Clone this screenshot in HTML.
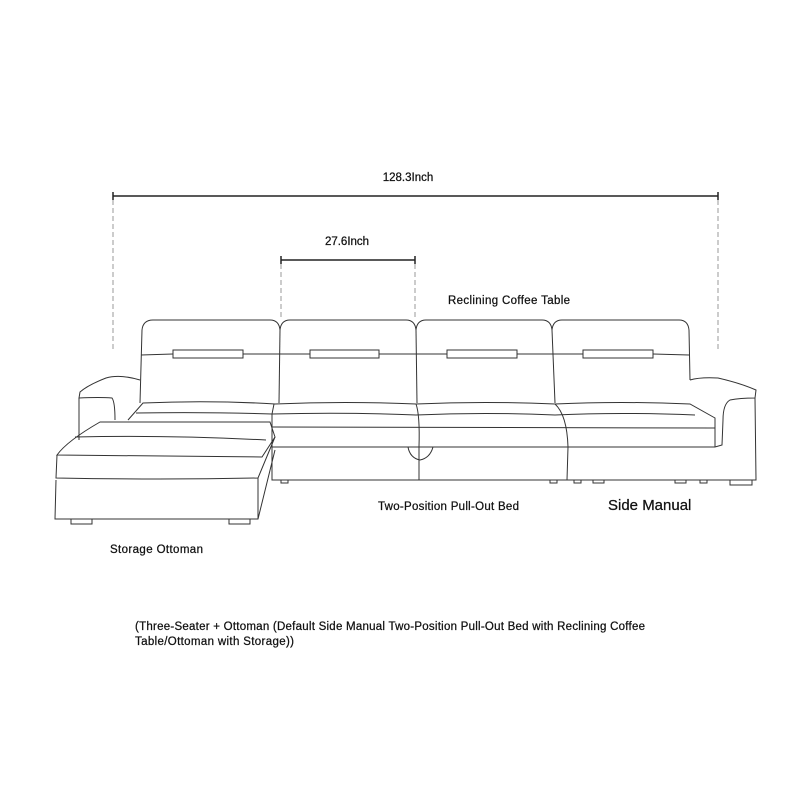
<!DOCTYPE html>
<html><head><meta charset="utf-8"><style>
html,body{margin:0;padding:0;background:#fff;width:800px;height:800px;overflow:hidden}
svg{display:block}
text{font-family:"Liberation Sans",sans-serif;fill:#111;stroke:#111;stroke-width:0.25}
</style></head><body>
<svg width="800" height="800" viewBox="0 0 800 800" xmlns="http://www.w3.org/2000/svg">
<g stroke="#222" stroke-width="1.5" fill="none">
<line x1="113" y1="196" x2="718" y2="196"/>
<line x1="113" y1="192" x2="113" y2="200"/><line x1="718" y1="192" x2="718" y2="200"/>
<line x1="281" y1="260" x2="415" y2="260"/>
<line x1="281" y1="256" x2="281" y2="264"/><line x1="415" y1="256" x2="415" y2="264"/>
</g>
<g stroke="#999" stroke-width="1" stroke-dasharray="5,3" fill="none">
<line x1="113" y1="200" x2="113" y2="350"/><line x1="718" y1="200" x2="718" y2="350"/>
<line x1="281" y1="264" x2="281" y2="320"/><line x1="415" y1="264" x2="415" y2="320"/>
</g>
<g stroke="#333" stroke-width="1" fill="none">
<path d="M140 403 L142 330 Q143 320 153 320 L270 320 Q279 320 280 330 Q281 320 290 320 L406 320 Q415 320 416 330 Q417 320 426 320 L542 320 Q551 320 552 330 Q553 320 562 320 L679 320 Q688 320 689 330 L690 380"/>
<line x1="280" y1="330" x2="279" y2="403"/>
<line x1="416" y1="330" x2="417" y2="403"/>
<line x1="552" y1="330" x2="555" y2="403"/>
<path d="M141 355 L173 354 M243 354 L310 354 M379 354 L447 354 M517 354 L583 354 M653 354 L689 355"/>
<rect x="173" y="350" width="70" height="8"/><rect x="310" y="350" width="69" height="8"/>
<rect x="447" y="350" width="70" height="8"/><rect x="583" y="350" width="70" height="8"/>
<path d="M128 420 L143 403 Q210 400 275 404 Q345 401 416 404 Q485 401 555 404 Q620 401 690 404 L715 418 L715 447"/>
<path d="M136 413 Q210 412 272 414"/>
<path d="M274 404 L272 414 L272 480 L715 480"/>
<path d="M272 414 Q345 412 416 415 Q485 412 555 415 Q620 412 695 415"/>
<line x1="272" y1="427" x2="715" y2="428"/>
<line x1="272" y1="447" x2="715" y2="447"/>
<path d="M416 404 Q420 415 419 447 L419 480"/>
<path d="M555 404 Q567 415 568 447 L567 480"/>
<path d="M408 447 Q410 458 420 460 Q430 458 433 447"/>
<path d="M140 380 Q120 374 106 378 Q88 385 80 392 L79 398 Q100 397 112 398 Q115 402 115 420"/>
<path d="M79 398 L79 440"/>
<path d="M690 380 Q700 377 718 378 Q740 383 756 390 L755 398 Q740 398 730 400 Q723 404 723 420 L722 445 L715 447"/>
<path d="M755 398 L756 480 L715 480"/>
<path d="M100 422 L270 422 L275 437 L262 457 L57 455 Q67 441 100 422 Z"/>
<path d="M75 437 Q170 435 266 440"/>
<path d="M57 455 L56 478 Q160 480 258 478 L275 437"/>
<path d="M56 480 L55 519 L258 519 L275 450"/>
<path d="M258 478 L258 519"/>
<rect x="71" y="519" width="21" height="5"/><rect x="229" y="519" width="21" height="5"/>
<rect x="281" y="480" width="7" height="3"/><rect x="550" y="480" width="7" height="3"/>
<rect x="574" y="480" width="7" height="3"/><rect x="593" y="480" width="11" height="3"/>
<rect x="675" y="480" width="11" height="3"/><rect x="700" y="480" width="7" height="3"/>
<rect x="730" y="480" width="22" height="5"/>
</g>
<text x="408" y="181" font-size="11.5" text-anchor="middle">128.3Inch</text>
<text x="347" y="245" font-size="11.5" text-anchor="middle">27.6Inch</text>
<text x="448" y="304" font-size="11.5" textLength="122">Reclining Coffee Table</text>
<text x="378" y="510" font-size="11.5" textLength="141">Two-Position Pull-Out Bed</text>
<text x="608" y="510" font-size="15">Side Manual</text>
<text x="110" y="553" font-size="11.5" textLength="93">Storage Ottoman</text>
<text x="135" y="630" font-size="11.5" textLength="510">(Three-Seater + Ottoman (Default Side Manual Two-Position Pull-Out Bed with Reclining Coffee</text>
<text x="135" y="645" font-size="11.5" textLength="159">Table/Ottoman with Storage))</text>
</svg>
</body></html>
